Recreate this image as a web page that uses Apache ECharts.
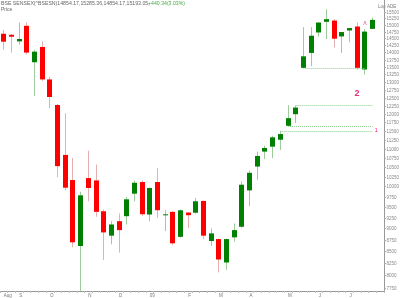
<!DOCTYPE html>
<html>
<head>
<meta charset="utf-8">
<script src="https://cdn.jsdelivr.net/npm/echarts@6/dist/echarts.min.js"></script>
<style>html,body{margin:0;padding:0;background:#fff}#c{width:400px;height:298px}</style>
</head>
<body>
<div id="c"></div>
<script>
// Weekly candles, BSE SENSEX, Aug 2008 - Jul 2009 (last slot empty)
const weeks = [
 '2008-08-18','2008-08-25','2008-09-01','2008-09-08','2008-09-15','2008-09-22','2008-09-29','2008-10-06','2008-10-13','2008-10-20',
 '2008-10-27','2008-11-03','2008-11-10','2008-11-17','2008-11-24','2008-12-01','2008-12-08','2008-12-15','2008-12-22','2008-12-29',
 '2009-01-05','2009-01-12','2009-01-19','2009-01-26','2009-02-02','2009-02-09','2009-02-16','2009-02-23','2009-03-02','2009-03-09',
 '2009-03-16','2009-03-23','2009-03-30','2009-04-06','2009-04-13','2009-04-20','2009-04-27','2009-05-04','2009-05-11','2009-05-18',
 '2009-05-25','2009-06-01','2009-06-08','2009-06-15','2009-06-22','2009-06-29','2009-07-06','2009-07-13','2009-07-20','2009-07-27'
];
const xLabels = [
 'Aug','','S','','','','O','','','',
 '','N','','','','D','','','','09',
 '','','','','F','','','','M','',
 '','','A','','','','','M','','',
 '','J','','','','J','','','',''
];
const opens  = [14673,14636,14394,14968,13660,14194,13083,12271,10824,10163,
                8612,10213,10153,9397,8838,9166,9281,9821,10112,9320,
                10112,9310,9383,8812,9367,9362,9644,8720,8763,8263,
                8801,9038,9902,10513,10914,11051,11245,11645,11989,13470,
                13983,14720,15118,15167,14574,14794,14942,13413,14854];
const closes = [14382,14563,14480,13994,14028,13083,12518,10524,9969,8692,
                9780,9962,9383,8911,9090,8962,9683,10094,9327,9962,
                9421,9325,8670,9421,9304,9635,8838,8889,8325,8763,
                8962,10044,10349,10797,11015,11313,11406,11870,12191,13865,
                14600,15092,15220,14491,14735,14883,13470,14753,15193];
const lows   = [14099,13994,14276,13924,12549,13027,12170,10239,9902,8584,
                7697,9635,9267,8317,8649,8471,9090,9635,9290,9166,
                9244,8940,8634,8800,9007,9344,8763,8612,8060,8112,
                8707,9016,9515,10170,10717,10736,10960,11640,11723,13460,
                13524,14574,14480,14180,13983,14358,13413,13247,14854];
const highs  = [14820,14660,15092,15092,14099,14394,13171,12300,12019,10744,
                9870,10941,10566,9438,9166,9344,9741,10153,10153,9975,
                10471,9421,9397,9438,9375,9716,9650,9000,8770,8770,
                9113,10127,10409,10914,11078,11358,11501,12262,12250,14920,
                14920,15100,15605,15220,14740,14890,15092,14846,15285];
const yTicks = [7750,8000,8250,8500,8750,9000,9250,9500,9750,10000,10250,10500,10750,11000,11250,11500,
                11750,12000,12250,12500,12750,13000,13250,13500,13750,14000,14250,14500,14750,15000,15250,15500];
// gap levels: [value, fromIndex, toIndex, label]
const gapLevels = [[13470,39,47,''],[12262,38,48,''],[11645,37,48,''],[11501,36,48,'1']];
const notes = [[46.2,12634,'2',9,'bold'],[47,15050,'\u039b',5,'normal']];

const candleData = opens.map((o,k)=>[k,o,closes[k],lows[k],highs[k]]);
const chart = echarts.init(document.getElementById('c'), null, {renderer:'canvas'});
const FONT = 'Liberation Sans';
chart.setOption({
  animation:false,
  backgroundColor:'#fff',
  grid:{left:0,right:16,top:0,bottom:5,containLabel:false},
  xAxis:{type:'category',data:weeks,boundaryGap:true,
    axisLine:{lineStyle:{color:'#999',width:1}},
    axisTick:{show:true,interval:0,length:2,lineStyle:{color:'#bbb'}},
    axisLabel:{interval:0,formatter:(v,i)=>xLabels[i],align:'left',fontSize:4.5,color:'#777',margin:2,fontFamily:FONT},
    splitLine:{show:false}},
  yAxis:{type:'log',position:'right',min:7692,max:15970,
    axisLine:{show:true,lineStyle:{color:'#999',width:1}},
    axisTick:{show:false},axisLabel:{show:false},splitLine:{show:false}},
  graphic:[
    {type:'text',left:1,top:1,style:{text:'BSE SENSEX(^BSESN)14854.17,15285.36,14854.17,15193.05,',fill:'#666',font:'5.2px '+FONT}},
    {type:'text',left:148,top:1,style:{text:'+440.34(3.03%)',fill:'#4aaa4a',font:'5.2px '+FONT}},
    {type:'text',left:1,top:7,style:{text:'Price',fill:'#666',font:'5px '+FONT}},
    {type:'text',left:378,top:4,style:{text:'Log',fill:'#777',font:'4.5px '+FONT}},
    {type:'text',left:387,top:4,style:{text:'ADE',fill:'#777',font:'4.5px '+FONT}}
  ],
  series:[
    {type:'custom',name:'candles',data:candleData,encode:{x:0,y:[1,2,3,4]},clip:true,
      renderItem:(params,api)=>{
        const i=api.value(0),o=api.value(1),c=api.value(2),l=api.value(3),h=api.value(4);
        const up=c>=o;
        const pO=api.coord([i,o]),pC=api.coord([i,c]),pL=api.coord([i,l]),pH=api.coord([i,h]);
        const bw=5;
        const bx=Math.round(pO[0]-bw/2);
        const wx=bx+2.5;
        const top=Math.min(pO[1],pC[1]),bot=Math.max(pO[1],pC[1]);
        const ht=Math.max(1,bot-top);
        return {type:'group',children:[
          {type:'line',shape:{x1:wx,y1:pH[1],x2:wx,y2:pL[1]},style:{stroke:up?'#9ccb9c':'#e4b0b0',lineWidth:1}},
          {type:'rect',shape:{x:bx,y:top,width:bw,height:ht},style:{fill:up?'#008000':'#ff0000'}}
        ]};
      }},
    {type:'custom',name:'yticks',data:yTicks.map(v=>[0,v]),encode:{x:0,y:1},clip:false,silent:true,
      renderItem:(params,api)=>{
        const y=Math.round(api.coord([0,api.value(1)])[1])+0.5;
        const x0=params.coordSys.x+params.coordSys.width;
        return {type:'group',children:[
          {type:'line',shape:{x1:x0,y1:y,x2:x0+2,y2:y},style:{stroke:'#aaa',lineWidth:1}},
          {type:'text',x:x0+2.5,y:y,style:{text:String(api.value(1)),fill:'#888',font:'4.5px '+FONT,verticalAlign:'middle',align:'left'}}
        ]};
      }},
    {type:'line',name:'levels',data:closes,symbol:'none',silent:true,lineStyle:{opacity:0},
      markLine:{silent:true,symbol:'none',animation:false,
        lineStyle:{type:'dotted',color:'#8fd08f',width:1},
        data:gapLevels.map(g=>[{coord:[g[1],g[0]],label:{show:g[3]!=='',formatter:g[3],position:'end',distance:2,color:'#e4307a',fontSize:6,fontFamily:FONT}},{coord:[g[2],g[0]]}])},
      markPoint:{silent:true,symbol:'circle',symbolSize:1,itemStyle:{color:'rgba(0,0,0,0)'},
        data:notes.map(n=>({coord:[n[0],n[1]],label:{show:true,position:'inside',formatter:n[2],color:'#e4307a',fontSize:n[3],fontWeight:n[4],fontFamily:FONT}}))}
    }
  ]
});
</script>
</body>
</html>
